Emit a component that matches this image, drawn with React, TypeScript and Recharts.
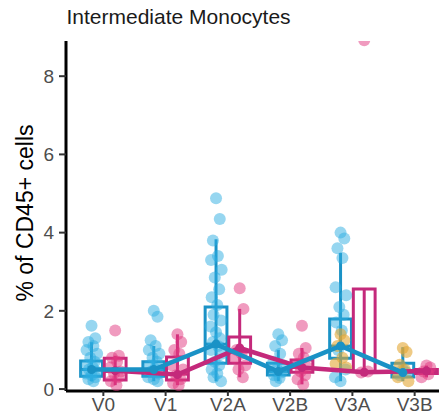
import React from 'react';
import { ComposedChart, Scatter, XAxis, YAxis, ReferenceArea, ReferenceLine } from 'recharts';

const categories = ['V0', 'V1', 'V2A', 'V2B', 'V3A', 'V3B'];
const xTicks = [1, 2, 3, 4, 5, 6];
const yTicks = [0, 2, 4, 6, 8];

// jittered observations, per category
const bluePoints = [
  [1.62, 1.3, 1.2, 1.1, 1.0, 0.9, 0.8, 0.7, 0.62, 0.55, 0.5, 0.45, 0.4, 0.35, 0.3, 0.25, 0.2],
  [2.0, 1.85, 1.25, 1.1, 1.0, 0.9, 0.8, 0.7, 0.6, 0.52, 0.45, 0.4, 0.3, 0.25, 0.2],
  [4.88, 4.35, 3.8, 3.4, 3.3, 3.05, 2.85, 2.55, 2.35, 2.15, 1.9, 1.75, 1.6, 1.45, 1.3, 1.2, 1.1, 1.0, 0.9, 0.7, 0.6, 0.5, 0.4, 0.3, 0.2],
  [1.4, 1.25, 1.1, 0.9, 0.7, 0.6, 0.5, 0.42, 0.35, 0.28, 0.2],
  [4.0, 3.85, 3.6, 3.35, 2.6, 2.4, 2.1, 1.9, 1.7, 1.5, 1.0, 0.5, 0.3, 0.2],
  [0.5, 0.42, 0.35],
];
const goldPoints = [[], [], [], [], [1.4, 1.25, 1.1, 0.8, 0.65, 0.55], [1.05, 0.95, 0.62, 0.5, 0.3, 0.2]];
const magentaPoints = [
  [1.5, 0.85, 0.8, 0.7, 0.55, 0.45, 0.4, 0.3, 0.2, 0.1],
  [1.4, 1.2, 1.0, 0.9, 0.6, 0.5, 0.35, 0.25, 0.15, 0.1],
  [2.58, 2.05, 1.0, 0.9, 0.8, 0.6, 0.5, 0.3],
  [1.62, 1.05, 0.9, 0.8, 0.65, 0.55, 0.45, 0.35, 0.25, 0.12],
  [8.92, 0.45, 0.42],
  [0.6, 0.55, 0.45, 0.38, 0.3],
];

// box statistics
const blueQ1 = [0.33, 0.33, 0.66, 0.36, 0.79, 0.31];
const blueMed = [0.5, 0.5, 1.15, 0.45, 1.1, 0.42];
const blueQ3 = [0.72, 0.7, 2.1, 0.66, 1.79, 0.66];
const blueLo = [0.2, 0.2, 0.2, 0.2, 0.2, 0.2];
const blueHi = [1.2, 1.1, 3.83, 1.0, 3.48, 1.07];
const magQ1 = [0.23, 0.23, 0.66, 0.43, 0.45, 0.4];
const magMed = [0.45, 0.38, 0.95, 0.55, 0.45, 0.45];
const magQ3 = [0.79, 0.82, 1.33, 0.74, 2.56, 0.5];
const magLo = [0.1, 0.1, 0.3, 0.12, 0.42, 0.3];
const magHi = [0.85, 1.4, 2.05, 1.05, 2.56, 0.6];

// summary lines
const blueLine = [0.5, 0.5, 1.15, 0.45, 1.1, 0.42];
const magLine = [0.47, 0.37, 1.05, 0.55, 0.43, 0.46];

const BLUE = '#1a92c6';
const BLUE_PT = '#2eaee2';
const MAG = '#c4297b';
const MAG_PT = '#e2377f';
const GOLD_PT = '#e2a733';

const DODGE = 0.19;
const HALF = 0.175;
const JIT = [0, 0.06, -0.05, 0.03, -0.08, 0.09, -0.02, 0.05, -0.07, 0.02, -0.04, 0.08, -0.09];

const FONT = '"Liberation Sans", Arial, sans-serif';

function pts(groups: number[][], side: number) {
  return groups.flatMap((vals, ci) =>
    vals.map((v, i) => ({ x: ci + 1 + side * DODGE + JIT[i % JIT.length], y: v }))
  );
}

// plot top edge in the chart's own svg space (= chart margin top)
const PLOT_TOP = 33;

const dotShape = (color: string, r: number, op: number) => (p: any) => (
  <g>
    <defs>
      <clipPath id="plotClipArea" clipPathUnits="userSpaceOnUse">
        <rect x={0} y={PLOT_TOP} width={480} height={420} />
      </clipPath>
    </defs>
    <circle cx={p.cx} cy={p.cy} r={r} fill={color} fillOpacity={op} clipPath="url(#plotClipArea)" />
  </g>
);

function boxes(q1: number[], med: number[], q3: number[], lo: number[], hi: number[], side: number, color: string) {
  const out: React.ReactNode[] = [];
  categories.forEach((_, i) => {
    const c = i + 1 + side * DODGE;
    out.push(
      <ReferenceLine key={`w${side}${i}`} segment={[{ x: c, y: lo[i] }, { x: c, y: hi[i] }]} stroke={color} strokeWidth={3} />
    );
    out.push(
      <ReferenceArea key={`b${side}${i}`} x1={c - HALF} x2={c + HALF} y1={q1[i]} y2={q3[i]} fill="#ffffff" fillOpacity={0} stroke={color} strokeWidth={3} strokeOpacity={1} />
    );
    out.push(
      <ReferenceLine key={`m${side}${i}`} segment={[{ x: c - HALF, y: med[i] }, { x: c + HALF, y: med[i] }]} stroke={color} strokeWidth={3} />
    );
  });
  return out;
}

export default function App() {
  const blueData = pts(bluePoints, -1);
  const goldData = pts(goldPoints, -1);
  const magData = pts(magentaPoints, 1);
  const blueLineData = blueLine.map((v, i) => ({ x: i + 1 - DODGE, y: v }));
  const magLineData = magLine.map((v, i) => ({ x: i + 1 + DODGE, y: v }));

  return (
    <div style={{ position: 'relative', width: 439, height: 412, fontFamily: FONT }}>
      <div style={{ width: 439, height: 412, overflow: 'hidden' }}>
        <ComposedChart width={460} height={412} margin={{ top: PLOT_TOP, right: 16, bottom: 0, left: 0 }}>
          <XAxis
            type="number"
            dataKey="x"
            domain={[0.4, 6.6]}
            ticks={xTicks}
            tickFormatter={(v: number) => categories[v - 1]}
            allowDataOverflow
            height={29}
            axisLine={{ stroke: '#000', strokeWidth: 3 }}
            tickLine={{ stroke: '#333', strokeWidth: 2 }}
            tickSize={5}
            tickMargin={2}
            tick={{ fill: '#4d4d4d', fontSize: 19, fontFamily: FONT }}
          />
          <YAxis
            type="number"
            dataKey="y"
            domain={[-0.05, 8.9]}
            ticks={yTicks}
            allowDataOverflow
            width={58}
            axisLine={{ stroke: '#000', strokeWidth: 3 }}
            tickLine={{ stroke: '#333', strokeWidth: 2 }}
            tickSize={7}
            tickMargin={5}
            tick={{ fill: '#4d4d4d', fontSize: 19, fontFamily: FONT }}
          />
          {boxes(blueQ1, blueMed, blueQ3, blueLo, blueHi, -1, BLUE)}
          {boxes(magQ1, magMed, magQ3, magLo, magHi, 1, MAG)}
          <Scatter data={blueData} shape={dotShape(BLUE_PT, 6, 0.5)} isAnimationActive={false} />
          <Scatter data={goldData} shape={dotShape(GOLD_PT, 6, 0.6)} isAnimationActive={false} />
          <Scatter data={magData} shape={dotShape(MAG_PT, 6, 0.5)} isAnimationActive={false} />
          <Scatter data={magLineData} line={{ stroke: MAG, strokeWidth: 4.5 }} shape={dotShape(MAG, 4.5, 1)} isAnimationActive={false} />
          <Scatter data={blueLineData} line={{ stroke: BLUE, strokeWidth: 4.5 }} shape={dotShape(BLUE, 4.5, 1)} isAnimationActive={false} />
        </ComposedChart>
      </div>
      <svg width={447} height={420} style={{ position: 'absolute', left: -8, top: -8, pointerEvents: 'none' }}>
        <text x={66.5} y={24.3} fontSize={21} fill="#1a1a1a" fontFamily={FONT}>Intermediate Monocytes</text>
        <text transform="translate(33,213) rotate(-90)" textAnchor="middle" fontSize={23} fill="#000" fontFamily={FONT}>% of CD45+ cells</text>
      </svg>
    </div>
  );
}
